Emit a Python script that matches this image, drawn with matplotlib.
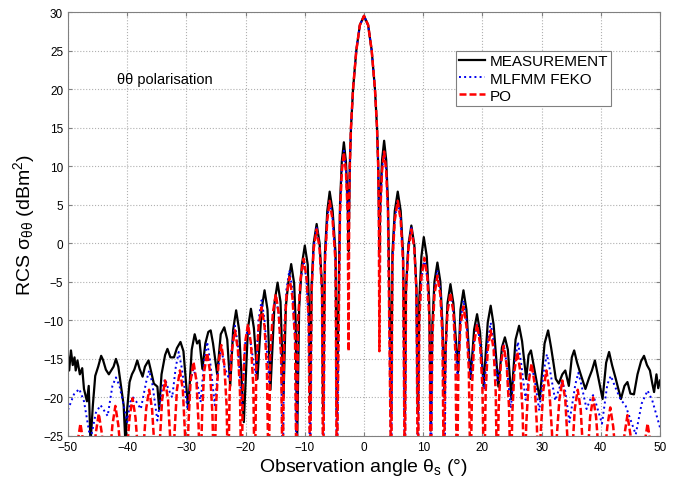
import numpy as np
import matplotlib
matplotlib.use('Agg')
import matplotlib.pyplot as plt

plt.rcParams['font.family'] = ['Liberation Sans', 'DejaVu Sans']
plt.rcParams['mathtext.fontset'] = 'custom'
plt.rcParams['mathtext.rm'] = 'Liberation Sans'
plt.rcParams['mathtext.it'] = 'Liberation Sans:italic'

# (angle deg, RCS dBm^2); values below -25 are off-axis nulls
main_lobe = [(-2.5, 5), (-2.4, 10), (-2.2, 15), (-1.85, 20), (-1.3, 25), (-0.7, 28.3),
             (0, 29.5), (0.7, 28.3), (1.3, 25), (1.85, 20), (2.2, 15), (2.4, 10), (2.5, 5)]

# PO (red dashed)
po_left = [(-50, -32),
           (-48.4, -25.9), (-47.9, -23.4), (-47.4, -25.9), (-46.3, -32),
           (-45.3, -24.6), (-44.8, -22.1), (-44.3, -24.6), (-43.4, -32),
           (-42.5, -23.6), (-42.0, -21.1), (-41.5, -23.6), (-40.55, -32),
           (-39.6, -22.6), (-39.1, -20.1), (-38.6, -22.6), (-37.7, -32),
           (-37.3, -27), (-36.8, -21.5), (-36.3, -19.0), (-35.8, -21.5), (-35.35, -27), (-34.95, -32),
           (-34.5, -25.8), (-34.1, -20.3), (-33.6, -17.8), (-33.1, -20.3), (-32.7, -25.8), (-32.35, -32),
           (-32.0, -24.5), (-31.6, -19.0), (-31.1, -16.5), (-30.6, -19.0), (-30.25, -24.5), (-29.95, -32),
           (-29.65, -23.4), (-29.3, -17.9), (-28.8, -15.4), (-28.3, -17.9), (-27.95, -23.4), (-27.65, -32),
           (-27.35, -22.2), (-27.0, -16.7), (-26.5, -14.2), (-26.0, -16.7), (-25.6, -22.2), (-25.3, -32),
           (-25.0, -21.2), (-24.6, -15.7), (-24.1, -13.2), (-23.6, -15.7), (-23.2, -21.2), (-22.95, -32),
           (-22.7, -19.3), (-22.3, -13.8), (-21.8, -11.3), (-21.3, -13.8), (-20.95, -19.3), (-20.7, -32),
           (-20.45, -18.5), (-20.1, -13.0), (-19.6, -10.5), (-19.1, -13.0), (-18.7, -18.5), (-18.45, -32),
           (-18.2, -16.3), (-17.8, -10.8), (-17.3, -8.3), (-16.8, -10.8), (-16.4, -16.3), (-16.1, -32),
           (-15.85, -14.6), (-15.4, -9.1), (-14.9, -6.6), (-14.4, -9.1), (-14.0, -14.6), (-13.75, -32),
           (-13.5, -12.4), (-13.1, -6.9), (-12.6, -4.4), (-12.1, -6.9), (-11.65, -12.4), (-11.4, -32),
           (-11.15, -10.0), (-10.7, -4.5), (-10.2, -2.0), (-9.7, -4.5), (-9.35, -10.0), (-9.1, -32),
           (-8.85, -6.2), (-8.5, -0.7), (-8.0, 1.8), (-7.5, -0.7), (-7.1, -6.2), (-6.9, -32),
           (-6.6, -2.5), (-6.2, 3.0), (-5.8, 5.5), (-5.3, 3.0), (-4.8, -2.5), (-4.6, -32),
           (-4.05, 3.8), (-3.75, 9.3), (-3.4, 11.8), (-3.05, 9.3), (-2.75, 3.8), (-2.6, -14)]
po_right = [(2.6, -14),
            (2.75, 3.9), (3.05, 9.4), (3.4, 11.9), (3.75, 9.4), (4.05, 3.9), (4.6, -32),
            (4.8, -2.5), (5.2, 3.0), (5.7, 5.5), (6.2, 3.0), (6.6, -2.5), (6.9, -32),
            (7.1, -6.2), (7.5, -0.7), (8.0, 1.8), (8.5, -0.7), (8.85, -6.2), (9.1, -32),
            (9.35, -9.9), (9.7, -4.4), (10.2, -1.9), (10.7, -4.4), (11.05, -9.9), (11.3, -32),
            (11.55, -12.2), (11.9, -6.7), (12.4, -4.2), (12.9, -6.7), (13.25, -12.2), (13.5, -32),
            (13.75, -14.4), (14.1, -8.9), (14.6, -6.4), (15.1, -8.9), (15.45, -14.4), (15.7, -32),
            (15.95, -16.2), (16.3, -10.7), (16.8, -8.2), (17.3, -10.7), (17.7, -16.2), (18.0, -32),
            (18.25, -18.5), (18.6, -13.0), (19.1, -10.5), (19.6, -13.0), (20.0, -18.5), (20.3, -32),
            (20.55, -19.3), (20.9, -13.8), (21.4, -11.3), (21.9, -13.8), (22.25, -19.3), (22.5, -32),
            (22.75, -21.3), (23.1, -15.8), (23.6, -13.3), (24.1, -15.8), (24.5, -21.3), (24.8, -32),
            (25.05, -22.1), (25.4, -16.6), (25.9, -14.1), (26.4, -16.6), (26.8, -22.1), (27.1, -32),
            (27.4, -23.6), (27.8, -18.1), (28.3, -15.6), (28.8, -18.1), (29.2, -23.6), (29.5, -32),
            (29.85, -24.5), (30.3, -19.0), (30.8, -16.5), (31.3, -19.0), (31.75, -24.5), (32.1, -32),
            (32.5, -25.8), (33.0, -20.3), (33.5, -17.8), (34.0, -20.3), (34.4, -25.8), (34.8, -32),
            (35.2, -27), (35.6, -21.5), (36.1, -19.0), (36.6, -21.5), (37.0, -27), (37.4, -32),
            (38.2, -22.5), (38.7, -20.0), (39.2, -22.5), (40.1, -32),
            (41.1, -23.8), (41.6, -21.3), (42.1, -23.8), (43.0, -32),
            (44.0, -24.8), (44.5, -22.3), (45.0, -24.8), (46.2, -32),
            (47.4, -25.9), (47.9, -23.4), (48.4, -25.9), (49.5, -32), (50, -32)]

# MLFMM FEKO (blue dotted)
feko_left = [(-50, -21.6), (-49.0, -19.6), (-48.1, -18.9), (-47.3, -20.5), (-46.2, -25.5),
             (-45.3, -22.0), (-44.5, -21.0), (-43.3, -22.4), (-42.5, -18.5), (-41.9, -17.4),
             (-41.3, -18.5), (-40.0, -23.2), (-39.5, -20.6), (-39.0, -20.0), (-38.5, -20.5),
             (-37.7, -21.5), (-36.8, -18.0), (-36.3, -16.5), (-35.8, -18.0), (-34.9, -23.0),
             (-34.1, -18.8), (-33.6, -17.6), (-33.1, -18.8), (-32.4, -20.0),
             (-31.8, -16.1), (-31.3, -14.1), (-30.8, -16.1), (-29.8, -21.5),
             (-29.3, -17.8), (-28.8, -16.3), (-28.3, -17.6), (-27.6, -20.6),
             (-27.0, -15.3), (-26.5, -12.8), (-26.0, -15.3), (-25.2, -21.0),
             (-24.6, -16.0), (-24.1, -13.5), (-23.6, -16.0), (-22.8, -17.6),
             (-22.3, -13.2), (-21.8, -10.7), (-21.3, -13.2), (-20.6, -21.5),
             (-20.1, -13.2), (-19.6, -10.7), (-19.1, -13.2), (-18.3, -17.2),
             (-17.8, -9.9), (-17.3, -7.4), (-16.8, -9.9), (-16.0, -18.0),
             (-15.4, -9.3), (-14.9, -6.8), (-14.4, -9.3), (-14.0, -14.8), (-13.7, -32),
             (-13.5, -11.5), (-13.1, -6.0), (-12.6, -3.5), (-12.1, -6.0), (-11.65, -11.5), (-11.4, -32),
             (-11.15, -10.3), (-10.7, -4.8), (-10.2, -2.3), (-9.7, -4.8), (-9.35, -10.3), (-9.1, -32),
             (-8.85, -6.0), (-8.5, -0.5), (-8.0, 2.0), (-7.5, -0.5), (-7.1, -6.0), (-6.9, -32),
             (-6.6, -2.4), (-6.2, 3.1), (-5.8, 5.6), (-5.3, 3.1), (-4.8, -2.4), (-4.6, -32),
             (-4.05, 4.0), (-3.75, 9.5), (-3.4, 12.0), (-3.05, 9.5), (-2.75, 4.0), (-2.6, -3)]
feko_right = [(2.6, -3),
              (2.75, 4.0), (3.05, 9.5), (3.4, 12.0), (3.75, 9.5), (4.05, 4.0), (4.6, -32),
              (4.8, -2.4), (5.2, 3.1), (5.7, 5.6), (6.2, 3.1), (6.6, -2.4), (6.9, -32),
              (7.1, -6.0), (7.5, -0.5), (8.0, 2.0), (8.5, -0.5), (8.85, -6.0), (9.1, -32),
              (9.35, -10.0), (9.7, -4.5), (10.2, -2.0), (10.7, -4.5), (11.05, -10.0), (11.3, -32),
              (11.55, -11.5), (11.9, -6.0), (12.4, -3.5), (12.9, -6.0), (13.25, -11.5), (13.6, -32),
              (13.8, -14.4), (14.1, -8.9), (14.6, -6.4), (15.1, -8.9), (15.8, -17.5),
              (16.3, -9.9), (16.8, -7.4), (17.3, -9.9), (18.0, -17.6),
              (18.6, -12.8), (19.1, -10.3), (19.6, -12.8), (20.3, -19.0),
              (20.9, -12.8), (21.4, -10.3), (21.9, -12.8), (22.5, -17.8),
              (23.1, -15.6), (23.6, -13.1), (24.1, -15.6), (24.8, -21.4),
              (25.5, -15.3), (26.0, -12.8), (26.5, -15.3), (27.3, -20.3),
              (27.8, -17.5), (28.3, -16.0), (28.8, -17.5), (29.6, -21.7),
              (30.4, -16.4), (30.9, -14.4), (31.4, -16.4), (32.3, -20.4),
              (33.0, -18.8), (33.5, -18.0), (34.0, -19.2), (34.7, -23.2),
              (35.7, -18.3), (36.2, -16.8), (36.7, -18.3), (37.6, -21.5),
              (38.2, -20.3), (38.7, -19.7), (39.2, -20.8), (40.2, -23.4),
              (41.1, -18.3), (41.7, -17.2), (42.3, -18.4), (43.3, -20.2), (44.2, -21.1),
              (45.9, -24.8), (46.9, -20.8), (47.9, -19.1), (48.7, -20.4), (50, -23.9)]

# MEASUREMENT (black)
meas_left = [(-50, -14.6), (-49.8, -16.5), (-49.5, -13.9), (-49.2, -15.8), (-48.9, -14.8),
             (-48.7, -16.5), (-48.4, -15.2), (-48.0, -17.0), (-47.6, -16.2), (-47.3, -18.9),
             (-46.8, -20.5), (-46.5, -18.5), (-46.2, -26.0), (-45.8, -21.0), (-45.4, -17.2),
             (-44.9, -16.0), (-44.4, -14.6), (-44.1, -15.1), (-43.6, -16.4), (-43.1, -17.0),
             (-42.7, -16.5), (-42.3, -16.0), (-41.9, -15.0), (-41.5, -16.0), (-40.9, -19.3),
             (-40.6, -21.0), (-40.3, -26.0), (-40.0, -21.5), (-39.6, -18.0), (-39.2, -17.0),
             (-38.8, -16.4), (-38.3, -15.2), (-37.9, -16.3), (-37.4, -17.3), (-37.0, -16.0),
             (-36.4, -15.2), (-36.0, -16.5), (-35.5, -18.2), (-34.9, -18.6), (-34.6, -21.5),
             (-34.2, -17.0), (-33.6, -14.5), (-33.2, -13.7), (-32.7, -14.8), (-32.1, -14.8),
             (-31.6, -13.6), (-31.0, -12.8), (-30.5, -14.0), (-29.7, -21.5), (-29.1, -13.8),
             (-28.6, -11.8), (-28.2, -13.0), (-27.8, -12.6), (-27.3, -16.3), (-26.8, -13.0),
             (-26.3, -11.5), (-25.9, -11.3), (-25.5, -13.0), (-24.8, -17.0), (-24.2, -11.8),
             (-23.6, -10.9), (-23.1, -12.5), (-22.6, -18.5), (-22.1, -11.2), (-21.6, -8.7),
             (-21.1, -11.2), (-20.3, -23.2), (-19.6, -11.0), (-19.1, -8.5), (-18.6, -11.0),
             (-18.0, -17.6), (-17.3, -8.6), (-16.8, -6.1), (-16.3, -8.6), (-15.8, -19.0),
             (-15.1, -7.6), (-14.6, -5.1), (-14.1, -7.6), (-13.6, -20.0),
             (-13.2, -8.2), (-12.8, -5.2), (-12.3, -2.7), (-11.8, -5.2), (-11.55, -10.0), (-11.3, -26.0),
             (-10.95, -8.3), (-10.5, -2.8), (-10.0, -0.3), (-9.5, -2.8), (-9.3, -8.3), (-9.1, -22),
             (-8.85, -5.5), (-8.5, 0.0), (-8.0, 2.5), (-7.5, 0.0), (-7.1, -5.5), (-6.9, -22),
             (-6.6, -1.3), (-6.2, 4.2), (-5.8, 6.7), (-5.3, 4.2), (-4.8, -1.3), (-4.6, -22),
             (-4.05, 5.1), (-3.75, 10.6), (-3.4, 13.1), (-3.05, 10.6), (-2.75, 5.1), (-2.6, -1.0)]
meas_right = [(2.6, -1.0),
              (2.75, 5.3), (3.05, 10.8), (3.4, 13.3), (3.75, 10.8), (4.05, 5.3), (4.6, -22),
              (4.8, -1.3), (5.2, 4.2), (5.7, 6.7), (6.2, 4.2), (6.6, -1.3), (6.9, -22),
              (7.1, -5.7), (7.5, -0.2), (8.0, 2.3), (8.5, -0.2), (8.85, -5.7), (9.1, -22),
              (9.35, -7.2), (9.7, -1.7), (10.1, 0.8), (10.6, -1.7), (11.0, -7.2), (11.3, -24.3),
              (11.55, -10.5), (11.9, -5.0), (12.4, -2.5), (12.9, -5.0), (13.25, -10.5), (13.6, -20.0),
              (13.8, -13.3), (14.1, -7.8), (14.6, -5.3), (15.1, -7.8), (15.9, -16.7),
              (16.3, -8.6), (16.8, -6.1), (17.3, -8.6), (18.0, -17.6),
              (18.6, -11.2), (19.1, -9.2), (19.6, -11.5), (20.2, -18.5),
              (20.9, -10.3), (21.4, -8.1), (21.9, -10.6), (22.7, -18.6),
              (23.3, -13.5), (23.8, -12.2), (24.3, -13.8), (24.9, -20.2),
              (25.6, -12.5), (26.2, -10.7), (26.7, -12.7), (27.4, -17.6),
              (27.8, -14.5), (28.2, -13.9), (28.7, -16.0), (29.7, -20.2), (30.5, -13.0),
              (31.1, -11.3), (31.6, -13.5), (32.0, -15.5), (32.4, -17.6), (32.9, -18.2),
              (33.5, -17.0), (34.0, -16.5), (34.6, -18.5), (35.1, -14.8), (35.5, -13.9),
              (36.0, -15.5), (36.6, -17.0), (37.4, -18.9), (38.0, -17.5), (38.5, -16.5),
              (39.0, -15.2), (39.6, -17.5), (40.3, -20.2), (40.9, -15.5), (41.4, -14.1),
              (41.9, -15.8), (42.5, -17.5), (43.4, -20.2), (44.0, -18.5), (44.5, -18.0),
              (45.0, -19.5), (45.6, -19.6), (46.2, -17.0), (46.8, -15.3), (47.3, -14.6),
              (47.8, -15.8), (48.3, -16.5), (48.7, -18.2), (49.0, -19.3), (49.4, -17.0),
              (49.7, -18.8), (50, -17.8)]


def join(*parts):
    pts = np.array([p for part in parts for p in part], dtype=float)
    return pts[:, 0], pts[:, 1]


fig = plt.figure(figsize=(6.82, 4.81), dpi=100)
ax = fig.add_axes([68 / 682, 1 - 437 / 481, 592 / 682, 424 / 481])

x, y = join(meas_left, main_lobe, meas_right)
ax.plot(x, y, color='black', lw=1.6, label='MEASUREMENT')
x, y = join(feko_left, main_lobe, feko_right)
ax.plot(x, y, color='#0000ee', lw=1.4, ls=':', label='MLFMM FEKO')
x, y = join(po_left, main_lobe, po_right)
ax.plot(x, y, color='#ff0000', lw=1.8, ls='--', dashes=(2.8, 1.2), label='PO')

ax.set_xlim(-50, 50)
ax.set_ylim(-25, 30)
ax.set_xticks(np.arange(-50, 51, 10))
ax.set_yticks(np.arange(-25, 31, 5))
ax.grid(True, ls=':', color='#b0b0b0', lw=0.8)
ax.tick_params(direction='in', top=True, right=True, labelsize=8.5, length=3,
               color='#808080')
for s in ax.spines.values():
    s.set_color('#808080')

ax.set_xlabel(r'Observation angle $\mathregular{\theta_s}$ (°)', fontsize=14, labelpad=2)
ax.set_ylabel(r'RCS $\mathregular{\sigma_{\theta\theta}}$ (dBm$\mathregular{^2}$)',
              fontsize=14, labelpad=4)

ax.text(-41.8, 21.3, 'θθ polarisation', fontsize=10.5, va='center', ha='left')

leg = ax.legend(loc='upper right', bbox_to_anchor=(0.918, 0.907), borderaxespad=0,
                fontsize=11, handlelength=1.7, handletextpad=0.3, labelspacing=0.2,
                borderpad=0.2, fancybox=False, framealpha=1, edgecolor='#808080')
leg.get_frame().set_linewidth(0.8)

fig.savefig('out.png', dpi=100)
